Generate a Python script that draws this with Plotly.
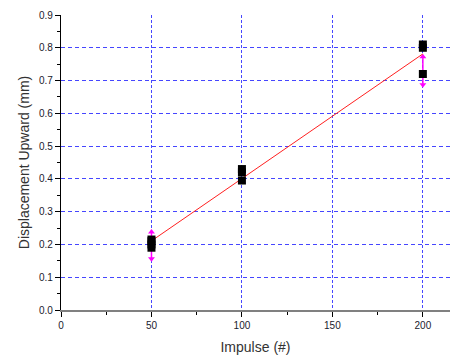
import numpy as np
import plotly.graph_objects as go

# Data
impulse = [50, 50, 50, 50, 100, 100, 100, 200, 200, 200]
displacement = [0.19, 0.20, 0.21, 0.215, 0.395, 0.42, 0.43, 0.72, 0.80, 0.81]
err_x = [50, 200]
err_y = [0.197, 0.73]
err_val = [0.041, 0.043]
x_ticks = [0, 50, 100, 150, 200]
y_ticks = [0.0, 0.1, 0.2, 0.3, 0.4, 0.5, 0.6, 0.7, 0.8, 0.9]
y_grid = [0.1, 0.2, 0.3, 0.4, 0.5, 0.6, 0.7, 0.8]

slope, intercept = np.polyfit(impulse, displacement, 1)
fit_x = [min(impulse), max(impulse)]
fit_y = [slope * v + intercept for v in fit_x]

MAG = "#FF00FF"
GRID = "#4646FF"

fig = go.Figure()
fig.add_trace(go.Scatter(x=[0], y=[0], yaxis="y2", mode="markers",
                         marker=dict(opacity=0), hoverinfo="skip"))
fig.add_trace(go.Scatter(x=err_x, y=err_y, mode="markers",
                         marker=dict(size=0.1, color=MAG, opacity=0),
                         error_y=dict(type="data", array=err_val, visible=True,
                                      color=MAG, thickness=1.5, width=0)))
fig.add_trace(go.Scatter(x=err_x, y=[a + b for a, b in zip(err_y, err_val)],
                         mode="markers",
                         marker=dict(symbol="triangle-up", size=6, color=MAG)))
fig.add_trace(go.Scatter(x=err_x, y=[a - b for a, b in zip(err_y, err_val)],
                         mode="markers",
                         marker=dict(symbol="triangle-down", size=6, color=MAG)))
fig.add_trace(go.Scatter(x=fit_x, y=fit_y, mode="lines",
                         line=dict(color="#FF2020", width=1)))
fig.add_trace(go.Scatter(x=impulse, y=displacement, mode="markers",
                         marker=dict(symbol="square", size=8, color="black",
                                     line=dict(width=0))))

fig.update_layout(
    width=450, height=358,
    margin=dict(l=61, r=0, t=15, b=48),
    paper_bgcolor="white", plot_bgcolor="white",
    showlegend=False,
    font=dict(family="Liberation Sans, Arial, sans-serif", color="#000"),
    xaxis=dict(range=[0, 215], tickvals=x_ticks, ticktext=[str(v) for v in x_ticks],
               automargin=False,
               showgrid=True, gridcolor=GRID, griddash="3px,2px", gridwidth=1,
               zeroline=False, showline=True, linecolor="#808080", linewidth=1.5,
               ticks="outside", ticklen=5, tickcolor="#000", tickwidth=1,
               minor=dict(tickvals=[25, 75, 125, 175], ticks="outside", ticklen=3,
                          tickcolor="#000", showgrid=False),
               tickfont=dict(size=10, color="#1a1a2e"),
               title=dict(text="Impulse (#)", font=dict(size=14, color="#333"),
                          standoff=12)),
    yaxis=dict(range=[0, 0.9], tickvals=y_ticks,
               ticktext=[f"{v:.1f}" for v in y_ticks],
               automargin=False,
               showgrid=False, zeroline=False,
               showline=True, linecolor="#000", linewidth=1.2,
               ticks="outside", ticklen=5, tickcolor="#000", tickwidth=1,
               minor=dict(tickvals=[0.05 + 0.1 * i for i in range(9)],
                          ticks="outside", ticklen=3, tickcolor="#000",
                          showgrid=False),
               tickfont=dict(size=10, color="#1a1a2e"),
               title=dict(text="Displacement Upward (mm)",
                          font=dict(size=14, color="#333"), standoff=6)),
    yaxis2=dict(range=[0, 0.9], overlaying="y", tickvals=y_grid, automargin=False,
                showticklabels=False, ticks="", showgrid=True, gridcolor=GRID,
                griddash="4px,3px", gridwidth=1, zeroline=False, showline=False),
)
fig.write_html("out.html", config={"displayModeBar": False},
               post_script="document.body.style.margin='0';document.body.style.overflow='hidden';")
